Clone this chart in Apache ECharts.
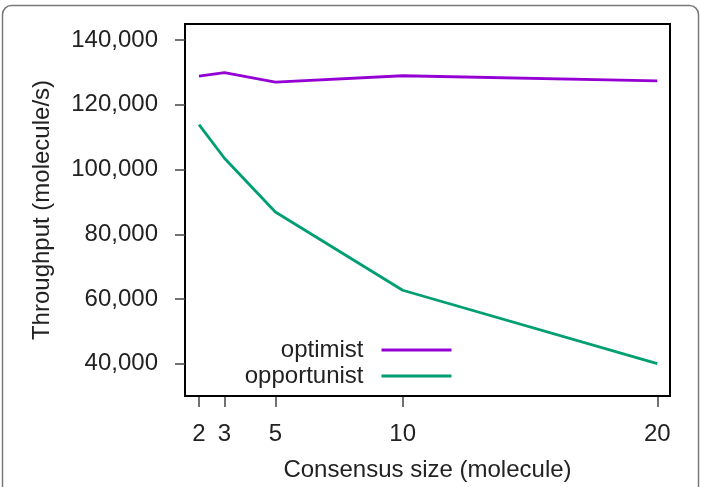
<!DOCTYPE html>
<html>
<head>
    <meta charset="utf-8">
    <script src="https://cdn.jsdelivr.net/npm/echarts@6/dist/echarts.min.js"></script>
    <style>
        html, body { margin: 0; padding: 0; background: #fff; }
    </style>
</head>
<body>
	<div id="main" style="width: 701px; height: 487px;"></div>
	<script type="text/javascript">
		// consensus sizes on the x axis
		var sizes = [2, 3, 5, 10, 20]
		var yTicks = [40000, 60000, 80000, 100000, 120000, 140000]
		// throughput
		var optimist = [128900, 130000, 127000, 129000, 127400]
		var opportunist = [113900, 103500, 86900, 62700, 40000]

		function pairs(xs, ys) {
			var out = []
			for (var i = 0; i < xs.length; i++) {
				out.push([xs[i], ys[i]])
			}
			return out
		}

		var font = 'Liberation Sans'
		var fs = 24
		var txt = '#222'
		var myChart = echarts.init(document.getElementById('main'))

option = {
    animation: false,
    textStyle: { fontFamily: font },
    grid: {
        left: 185, right: 31, top: 24, bottom: 89,
        show: true,
        borderColor: '#000',
        borderWidth: 2,
        backgroundColor: 'transparent'
    },
    graphic: [{
        type: 'rect',
        shape: { x: 2.5, y: 5.5, width: 696, height: 520, r: 9 },
        style: { fill: 'none', stroke: '#7a7a7a', lineWidth: 1.5 },
        silent: true
    }],
    legend: {
        orient: 'vertical',
        align: 'right',
        right: 249.5,
        top: 338,
        padding: 0,
        icon: 'rect',
        itemWidth: 70,
        itemHeight: 3,
        itemGap: 2,
        textStyle: { fontFamily: font, fontSize: fs, color: txt, padding: [0, 13, 0, 0] },
        data: ['optimist', 'opportunist']
    },
    xAxis: {
        type: 'value',
        min: 1.45,
        max: 20.5,
        offset: 1,
        name: 'Consensus size (molecule)',
        nameLocation: 'middle',
        nameGap: 61,
        nameTextStyle: { fontFamily: font, fontSize: fs, color: txt },
        axisLine: { show: false },
        splitLine: { show: false },
        axisTick: {
            show: true,
            length: 10,
            customValues: sizes,
            lineStyle: { color: '#444', width: 1.5 }
        },
        axisLabel: {
            customValues: sizes,
            margin: 25,
            fontFamily: font,
            fontSize: fs,
            color: txt
        }
    },
    yAxis: {
        type: 'value',
        min: 30000,
        max: 145000,
        name: 'Throughput (molecule/s)',
        nameLocation: 'middle',
        nameGap: 131,
        nameTextStyle: { fontFamily: font, fontSize: fs, color: txt },
        axisLine: { show: false },
        splitLine: { show: false },
        axisTick: {
            show: true,
            length: 10,
            customValues: yTicks,
            lineStyle: { color: '#444', width: 1.5 }
        },
        axisLabel: {
            customValues: yTicks,
            margin: 27,
            fontFamily: font,
            fontSize: fs,
            color: txt,
            formatter: function (v) { return v.toLocaleString('en-US') }
        }
    },
    series: [{
        name: 'optimist',
        type: 'line',
        symbol: 'none',
        data: pairs(sizes, optimist),
        lineStyle: { color: '#9400d3', width: 2.8 },
        itemStyle: { color: '#9400d3' }
    }, {
        name: 'opportunist',
        type: 'line',
        symbol: 'none',
        data: pairs(sizes, opportunist),
        lineStyle: { color: '#009e73', width: 2.8 },
        itemStyle: { color: '#009e73' }
    }]
};
	myChart.setOption(option)
	</script>
</body>
</html>
